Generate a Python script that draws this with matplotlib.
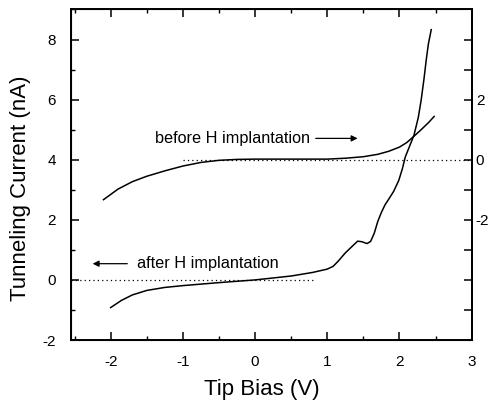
import matplotlib
matplotlib.use("Agg")
import matplotlib.pyplot as plt
from matplotlib.ticker import MultipleLocator

plt.rcParams['font.family'] = ['Liberation Sans', 'DejaVu Sans']
plt.rcParams['axes.unicode_minus'] = False

# "before H implantation" curve (left-axis units; right axis = left - 4)
before_x = [-2.10, -1.90, -1.70, -1.50, -1.25, -1.00, -0.75, -0.50, -0.25, 0.00,
            0.50, 1.00, 1.25, 1.50, 1.70, 1.85, 2.00, 2.10, 2.20, 2.30, 2.40, 2.48]
before_y = [2.67, 3.02, 3.27, 3.45, 3.63, 3.79, 3.91, 3.98, 4.01, 4.02,
            4.02, 4.02, 4.05, 4.10, 4.18, 4.28, 4.42, 4.57, 4.78, 5.00, 5.23, 5.44]

# "after H implantation" curve
after_x = [-2.00, -1.85, -1.70, -1.50, -1.25, -1.00, -0.50, 0.00, 0.50, 0.80,
           1.00, 1.08, 1.15, 1.25, 1.35, 1.42, 1.48, 1.55, 1.60, 1.65, 1.70,
           1.75, 1.80, 1.86, 1.92, 1.99, 2.04, 2.08, 2.14, 2.20, 2.26, 2.30,
           2.34, 2.37, 2.40, 2.44]
after_y = [-0.92, -0.68, -0.50, -0.35, -0.25, -0.19, -0.09, 0.00, 0.13, 0.25,
           0.36, 0.45, 0.62, 0.90, 1.13, 1.29, 1.27, 1.21, 1.28, 1.55, 1.95,
           2.25, 2.50, 2.72, 2.95, 3.31, 3.70, 4.09, 4.45, 4.81, 5.40, 5.98,
           6.70, 7.31, 7.85, 8.33]

# zero reference lines
zero_before_x = [-1.0, 3.0]
zero_before_y = [4.0, 4.0]
zero_after_x = [-2.55, 0.80]
zero_after_y = [0.0, 0.0]

left_ticks = [-2, 0, 2, 4, 6, 8]
right_ticks = [-5, -4, -3, -2, -1, 0, 1, 2, 3, 4]
right_labels = ['', '', '', '-2', '', '0', '', '2', '', '']
x_ticks = [-2, -1, 0, 1, 2, 3]

fig = plt.figure(figsize=(5.02, 4.07), dpi=100)
ax = fig.add_axes([0.1414, 0.1646, 0.7982, 0.8121])

ax.plot(before_x, before_y, color='black', lw=1.1)
ax.plot(after_x, after_y, color='black', lw=1.1)
ax.plot(zero_before_x, zero_before_y, color='black', lw=0.9, ls=(0, (1, 2.5)))
ax.plot(zero_after_x, zero_after_y, color='black', lw=0.9, ls=(0, (1, 2.5)))

ax.set_xlim(-2.55, 3.0)
ax.set_ylim(-2, 9)
ax.set_xticks(x_ticks)
ax.xaxis.set_minor_locator(MultipleLocator(0.5))
ax.set_yticks(left_ticks)
ax.yaxis.set_minor_locator(MultipleLocator(1))

ax.tick_params(axis='both', which='both', direction='in', labelsize=11)
ax.tick_params(axis='x', which='both', top=True, bottom=True)
ax.tick_params(axis='y', which='both', left=True, right=False)
ax.tick_params(axis='x', which='major', length=5.5, width=1.1, pad=11)
ax.tick_params(axis='x', which='minor', length=3, width=1.0)
ax.tick_params(axis='y', which='major', length=5.5, width=1.1, pad=11)
ax.tick_params(axis='y', which='minor', length=3, width=1.0)

for s in ax.spines.values():
    s.set_linewidth(1.4)

ax2 = ax.twinx()
ax2.set_ylim(-6, 5)
ax2.set_yticks(right_ticks)
ax2.set_yticklabels(right_labels)
ax2.tick_params(axis='y', direction='in', length=5.5, width=1.1, labelsize=11, pad=3)
ax2.spines['right'].set_linewidth(1.4)

ax.set_xlabel('Tip Bias (V)', fontsize=16)
ax.set_ylabel('Tunneling Current (nA)', fontsize=16)
ax.xaxis.set_label_coords(0.477, -0.118)
ax.yaxis.set_label_coords(-0.100, 0.46)

ax.text(-1.38, 4.71, 'before H implantation', fontsize=11.7, va='center', ha='left')
ax.annotate('', xy=(1.42, 4.71), xytext=(0.84, 4.71),
            arrowprops=dict(arrowstyle='-|>', color='black', lw=0.9,
                            mutation_scale=9, shrinkA=0, shrinkB=0))
ax.text(-1.63, 0.54, 'after H implantation', fontsize=11.7, va='center', ha='left')
ax.annotate('', xy=(-2.25, 0.54), xytext=(-1.77, 0.54),
            arrowprops=dict(arrowstyle='-|>', color='black', lw=0.9,
                            mutation_scale=9, shrinkA=0, shrinkB=0))

fig.savefig('out.png', dpi=100)
